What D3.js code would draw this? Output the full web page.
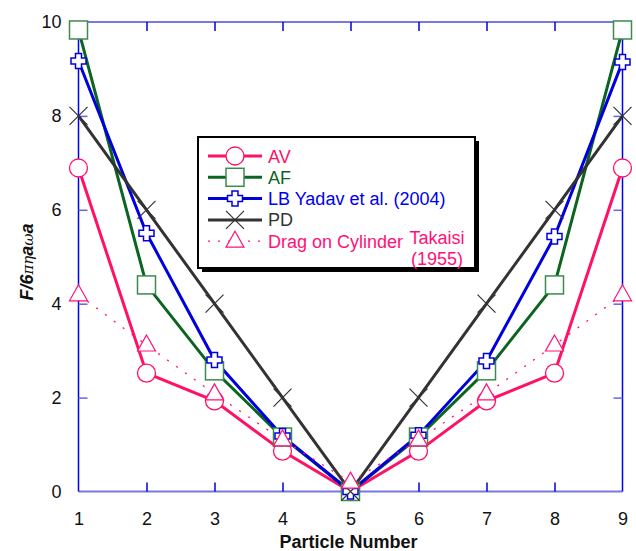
<!DOCTYPE html>
<html>
<head>
<meta charset="utf-8">
<script src="https://cdn.jsdelivr.net/npm/d3@7"></script>
<style>
body { margin: 0; background: #fff; }
text { font-family: "Liberation Sans", Arial, sans-serif; }
</style>
</head>
<body>
<svg width="636" height="551"></svg>
<script>
// particle numbers on x
var particles = [1, 2, 3, 4, 5, 6, 7, 8, 9];
var xTicks = [1, 2, 3, 4, 5, 6, 7, 8, 9];
var yTicks = [0, 2, 4, 6, 8, 10];

// series values
var avValues   = [6.89, 2.52, 1.93, 0.86, 0.0, 0.86, 1.93, 2.52, 6.89];
var afValues   = [9.83, 4.40, 2.57, 1.16, 0.0, 1.16, 2.57, 4.40, 9.83];
var lbValues   = [9.17, 5.50, 2.80, 1.18, 0.0, 1.20, 2.78, 5.43, 9.15];
var pdValues   = [8.0, 6.0, 4.0, 2.0, 0.0, 2.0, 4.0, 6.0, 8.0];
var dragValues = [4.19, 3.12, 2.08, 1.10, 0.20, 1.10, 2.08, 3.12, 4.19];

var svg = d3.select("svg");
var pLeft = 78.5, pRight = 622.5, pTop = 22, pBottom = 491.5;

var x = d3.scaleLinear().domain([1, 9]).range([pLeft, pRight]);
var y = d3.scaleLinear().domain([0, 10]).range([pBottom, pTop]);

// frame
svg.append("line").attr("x1", pLeft).attr("x2", pRight).attr("y1", pTop).attr("y2", pTop)
    .attr("stroke", "#7777e6").attr("stroke-width", 2);
svg.append("line").attr("x1", pLeft).attr("x2", pRight).attr("y1", pBottom).attr("y2", pBottom)
    .attr("stroke", "#7777e6").attr("stroke-width", 2);
svg.append("line").attr("x1", pLeft).attr("x2", pLeft).attr("y1", pTop).attr("y2", pBottom)
    .attr("stroke", "#0000ee").attr("stroke-width", 1.5);
svg.append("line").attr("x1", pRight).attr("x2", pRight).attr("y1", pTop).attr("y2", pBottom)
    .attr("stroke", "#0000ee").attr("stroke-width", 1.5);

// axes with inward ticks
var xAxisB = d3.axisBottom(x).tickValues(xTicks).tickSize(-9).tickPadding(21).tickFormat(d3.format("d"));
var gxb = svg.append("g").attr("transform", "translate(0," + pBottom + ")").call(xAxisB);
var xAxisT = d3.axisTop(x).tickValues(xTicks.slice(1, -1)).tickSize(-9).tickFormat("");
var gxt = svg.append("g").attr("transform", "translate(0," + pTop + ")").call(xAxisT);
var yAxisL = d3.axisLeft(y).tickValues(yTicks).tickSize(-9).tickPadding(17).tickFormat(d3.format("d"));
var gyl = svg.append("g").attr("transform", "translate(" + pLeft + ",0)").call(yAxisL);
var yAxisR = d3.axisRight(y).tickValues(yTicks.slice(1, -1)).tickSize(-9).tickFormat("");
var gyr = svg.append("g").attr("transform", "translate(" + pRight + ",0)").call(yAxisR);

[gxb, gxt, gyl, gyr].forEach(function(g) {
    g.select(".domain").remove();
    g.selectAll(".tick line").attr("stroke", "#2a2ae0").attr("stroke-width", 1.5);
    g.selectAll("text").attr("fill", "#111").attr("font-size", 18)
        .attr("font-family", "Liberation Sans, Arial, sans-serif");
});
gxb.selectAll(".tick line").attr("stroke", "#0000dd");
gxb.selectAll(".tick").filter(function(d) { return d === 1 || d === 9; }).select("line").remove();
gyl.selectAll(".tick").filter(function(d) { return d === 0 || d === 10; }).select("line").remove();
gyl.selectAll(".tick line").attr("stroke", "#6666dd");
gyr.selectAll(".tick line").attr("stroke", "#6666dd");
gxt.selectAll(".tick line").attr("stroke", "#0000dd");

// axis titles
svg.append("text").attr("x", (pLeft + pRight) / 2 - 2).attr("y", 548)
    .attr("text-anchor", "middle").attr("font-size", 18).attr("font-weight", "bold")
    .attr("fill", "#111").text("Particle Number");

var ylab = svg.append("text").attr("transform", "translate(33,262) rotate(-90)")
    .attr("text-anchor", "middle").attr("font-size", 18).attr("fill", "#111");
ylab.append("tspan").attr("font-weight", "bold").attr("font-style", "italic").text("F/6");
ylab.append("tspan").attr("font-family", "DejaVu Serif").attr("font-style", "italic").attr("font-size", 15).text("πη");
ylab.append("tspan").attr("font-weight", "bold").attr("font-style", "italic").text("a");
ylab.append("tspan").attr("font-family", "DejaVu Serif").attr("font-style", "italic").attr("font-size", 15).text("ω");
ylab.append("tspan").attr("font-weight", "bold").attr("font-style", "italic").text("a");

// marker shapes
function drawMarker(g, type, color) {
    if (type === "circle") {
        g.append("circle").attr("r", 9).attr("fill", "#fff").attr("stroke", color).attr("stroke-width", 1.3);
    } else if (type === "square") {
        g.append("rect").attr("x", -9).attr("y", -9).attr("width", 18).attr("height", 18)
            .attr("fill", "#fff").attr("stroke", "#3d8a4e").attr("stroke-width", 1.5);
    } else if (type === "plus") {
        var a = 3, b = 7.5;
        var p = [[-a,-b],[a,-b],[a,-a],[b,-a],[b,a],[a,a],[a,b],[-a,b],[-a,a],[-b,a],[-b,-a],[-a,-a]];
        g.append("path").attr("d", "M" + p.join("L") + "Z")
            .attr("fill", "#fff").attr("stroke", color).attr("stroke-width", 1.5);
    } else if (type === "x") {
        g.append("path").attr("d", "M-9,-9L9,9M-9,9L9,-9")
            .attr("stroke", color).attr("stroke-width", 1.2).attr("fill", "none");
    } else if (type === "tri") {
        g.append("path").attr("d", "M0,-10L9,6L-9,6Z")
            .attr("fill", "#fff").attr("stroke", color).attr("stroke-width", 1.2);
    }
}

var series = [
    {name: "AV", values: avValues, color: "#ff1166", marker: "circle", width: 3, dash: null},
    {name: "AF", values: afValues, color: "#0b6420", marker: "square", width: 3, dash: null},
    {name: "LB", values: lbValues, color: "#0000dd", marker: "plus", width: 3, dash: null},
    {name: "PD", values: pdValues, color: "#333333", marker: "x", width: 3, dash: null},
    {name: "Drag", values: dragValues, color: "#ff1177", marker: "tri", width: 1.3, dash: "2,9"}
];

var line = d3.line()
    .x(function(d, i) { return x(particles[i]); })
    .y(function(d) { return y(d); });

series.forEach(function(s) {
    svg.append("path").datum(s.values).attr("d", line)
        .attr("fill", "none").attr("stroke", s.color).attr("stroke-width", s.width)
        .attr("stroke-dasharray", s.dash);
});
series.forEach(function(s) {
    svg.selectAll(null).data(s.values).enter().append("g")
        .attr("transform", function(d, i) { return "translate(" + x(particles[i]) + "," + y(d) + ")"; })
        .each(function() { drawMarker(d3.select(this), s.marker, s.color); });
});

// legend
var lg = svg.append("g");
lg.append("rect").attr("x", 202).attr("y", 141).attr("width", 277).attr("height", 131).attr("fill", "#000");
lg.append("rect").attr("x", 198).attr("y", 137).attr("width", 277).attr("height", 131)
    .attr("fill", "#fff").attr("stroke", "#000").attr("stroke-width", 2);

var legendLabels = ["AV", "AF", "LB Yadav et al. (2004)", "PD", "Drag on Cylinder"];
var textColors = ["#ff1166", "#0b6420", "#0000ee", "#333333", "#ff1177"];
series.forEach(function(s, i) {
    var ly = 156 + i * 21.3;
    lg.append("line").attr("x1", 208).attr("x2", 262).attr("y1", ly).attr("y2", ly)
        .attr("stroke", s.color).attr("stroke-width", s.width).attr("stroke-dasharray", s.dash ? "2,8" : null);
    var mg = lg.append("g").attr("transform", "translate(235," + ly + ")");
    drawMarker(mg, s.marker, s.color);
    lg.append("text").attr("x", 268).attr("y", ly + 6.5).attr("font-size", 18)
        .attr("fill", textColors[i]).text(legendLabels[i]);
});
lg.append("text").attr("x", 437).attr("y", 244).attr("text-anchor", "middle").attr("font-size", 18)
    .attr("fill", "#ff1177").text("Takaisi");
lg.append("text").attr("x", 437).attr("y", 265).attr("text-anchor", "middle").attr("font-size", 18)
    .attr("fill", "#ff1177").text("(1955)");
</script>
</body>
</html>
